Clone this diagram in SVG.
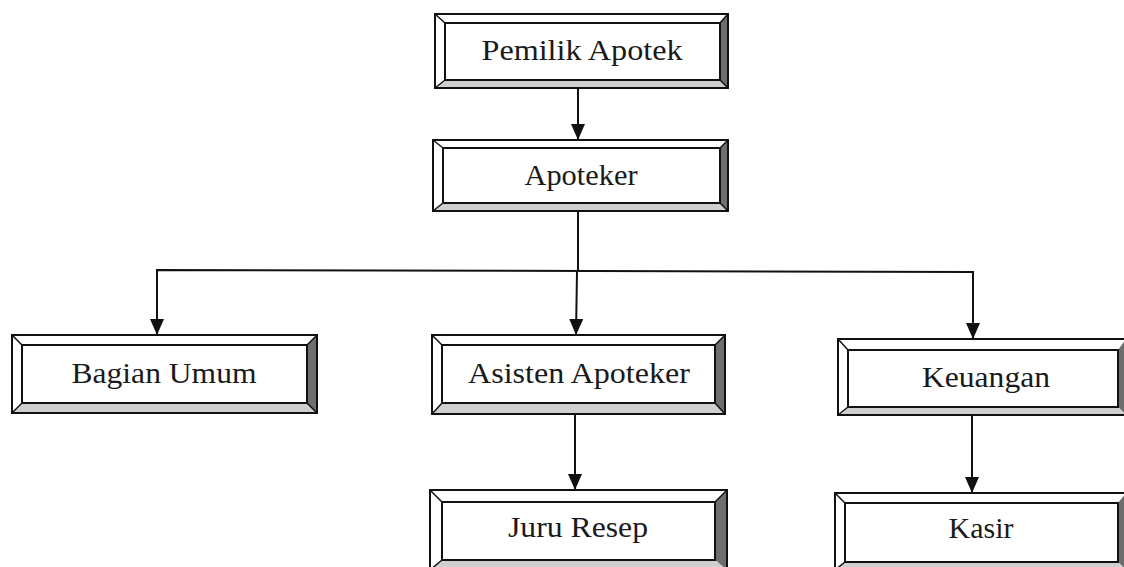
<svg xmlns="http://www.w3.org/2000/svg" width="1124" height="567" viewBox="0 0 1124 567">
<style>
.outer{fill:#fff;stroke:#111;stroke-width:2}
.inner{fill:#fff;stroke:#111;stroke-width:2}
.rb{fill:#6e6e6e;stroke:none}
.bb{fill:#cfcfcf;stroke:none}
.diag{stroke:#111;stroke-width:1.5}
.lbl{font-family:"Liberation Serif","Times New Roman",serif;font-size:29px;fill:#1a1a1a;text-anchor:middle}
.conn{stroke:#111;stroke-width:2;fill:none}
</style>
<defs>
<marker id="ah" markerUnits="userSpaceOnUse" markerWidth="16" markerHeight="14" refX="16" refY="7" orient="auto-start-reverse" viewBox="0 0 16 14">
<path d="M0,0 L16,7 L0,14 Z" fill="#111"/>
</marker>
</defs>
<rect width="1124" height="567" fill="#fff"/>

<g id="node-pemilik">
<rect class="outer" x="435" y="14" width="293" height="74"/>
<polygon class="rb" points="720,23 728,14 728,88 720,80"/>
<polygon class="bb" points="445,80 720,80 728,88 435,88"/>
<rect class="inner" x="445" y="23" width="275" height="57"/>
<line class="diag" x1="435" y1="14" x2="445" y2="23"/><line class="diag" x1="728" y1="14" x2="720" y2="23"/><line class="diag" x1="435" y1="88" x2="445" y2="80"/><line class="diag" x1="728" y1="88" x2="720" y2="80"/>
<rect x="435" y="14" width="293" height="74" fill="none" stroke="#111" stroke-width="2"/>
<text class="lbl" x="582" y="60" textLength="201" lengthAdjust="spacingAndGlyphs">Pemilik Apotek</text>
</g>

<g id="node-apoteker">
<rect class="outer" x="433" y="140" width="295" height="71"/>
<polygon class="rb" points="720,148 728,140 728,211 720,203"/>
<polygon class="bb" points="443,203 720,203 728,211 433,211"/>
<rect class="inner" x="443" y="148" width="277" height="55"/>
<line class="diag" x1="433" y1="140" x2="443" y2="148"/><line class="diag" x1="728" y1="140" x2="720" y2="148"/><line class="diag" x1="433" y1="211" x2="443" y2="203"/><line class="diag" x1="728" y1="211" x2="720" y2="203"/>
<rect x="433" y="140" width="295" height="71" fill="none" stroke="#111" stroke-width="2"/>
<text class="lbl" x="581" y="185" textLength="113" lengthAdjust="spacingAndGlyphs">Apoteker</text>
</g>

<g id="node-bagian-umum">
<rect class="outer" x="12" y="335" width="305" height="78"/>
<polygon class="rb" points="307,345 317,335 317,413 307,403"/>
<polygon class="bb" points="22,403 307,403 317,413 12,413"/>
<rect class="inner" x="22" y="345" width="285" height="58"/>
<line class="diag" x1="12" y1="335" x2="22" y2="345"/><line class="diag" x1="317" y1="335" x2="307" y2="345"/><line class="diag" x1="12" y1="413" x2="22" y2="403"/><line class="diag" x1="317" y1="413" x2="307" y2="403"/>
<rect x="12" y="335" width="305" height="78" fill="none" stroke="#111" stroke-width="2"/>
<text class="lbl" x="164" y="383" textLength="185" lengthAdjust="spacingAndGlyphs">Bagian Umum</text>
</g>

<g id="node-asisten">
<rect class="outer" x="432" y="335" width="293" height="79"/>
<polygon class="rb" points="715,345 725,335 725,414 715,403"/>
<polygon class="bb" points="442,403 715,403 725,414 432,414"/>
<rect class="inner" x="442" y="345" width="273" height="58"/>
<line class="diag" x1="432" y1="335" x2="442" y2="345"/><line class="diag" x1="725" y1="335" x2="715" y2="345"/><line class="diag" x1="432" y1="414" x2="442" y2="403"/><line class="diag" x1="725" y1="414" x2="715" y2="403"/>
<rect x="432" y="335" width="293" height="79" fill="none" stroke="#111" stroke-width="2"/>
<text class="lbl" x="579" y="383" textLength="222" lengthAdjust="spacingAndGlyphs">Asisten Apoteker</text>
</g>

<g id="node-keuangan">
<rect class="outer" x="838" y="339" width="288" height="76"/>
<polygon class="rb" points="1118,350 1126,339 1126,415 1118,407"/>
<polygon class="bb" points="848,407 1118,407 1126,415 838,415"/>
<rect class="inner" x="848" y="350" width="270" height="57"/>
<line class="diag" x1="838" y1="339" x2="848" y2="350"/><line class="diag" x1="838" y1="415" x2="848" y2="407"/>
<rect x="838" y="339" width="288" height="76" fill="none" stroke="#111" stroke-width="2"/>
<text class="lbl" x="986" y="387" textLength="128" lengthAdjust="spacingAndGlyphs">Keuangan</text>
</g>

<g id="node-juru-resep">
<rect class="outer" x="430" y="490" width="297" height="80"/>
<polygon class="rb" points="715,502 727,490 727,570 715,560"/>
<polygon class="bb" points="442,560 715,560 727,570 430,570"/>
<rect class="inner" x="442" y="502" width="273" height="58"/>
<line class="diag" x1="430" y1="490" x2="442" y2="502"/><line class="diag" x1="727" y1="490" x2="715" y2="502"/><line class="diag" x1="430" y1="570" x2="442" y2="560"/>
<rect x="430" y="490" width="297" height="80" fill="none" stroke="#111" stroke-width="2"/>
<text class="lbl" x="578" y="537" textLength="140" lengthAdjust="spacingAndGlyphs">Juru Resep</text>
</g>

<g id="node-kasir">
<rect class="outer" x="835" y="493" width="291" height="77"/>
<polygon class="rb" points="1118,503 1126,493 1126,570 1118,562"/>
<polygon class="bb" points="845,562 1118,562 1126,570 835,570"/>
<rect class="inner" x="845" y="503" width="273" height="59"/>
<line class="diag" x1="835" y1="493" x2="845" y2="503"/><line class="diag" x1="835" y1="570" x2="845" y2="562"/>
<rect x="835" y="493" width="291" height="77" fill="none" stroke="#111" stroke-width="2"/>
<text class="lbl" x="981" y="538" textLength="65" lengthAdjust="spacingAndGlyphs">Kasir</text>
</g>

<g id="connectors">
<line class="conn" x1="578" y1="89" x2="578" y2="140" marker-end="url(#ah)"/>
<line class="conn" x1="578" y1="212" x2="578" y2="271"/>
<polyline class="conn" points="157,335 157,270 973,272 973,339" marker-start="url(#ah)" marker-end="url(#ah)"/>
<line class="conn" x1="577" y1="271" x2="576" y2="335" marker-end="url(#ah)"/>
<line class="conn" x1="575" y1="415" x2="575" y2="490" marker-end="url(#ah)"/>
<line class="conn" x1="972" y1="416" x2="972" y2="493" marker-end="url(#ah)"/>
</g>
</svg>
